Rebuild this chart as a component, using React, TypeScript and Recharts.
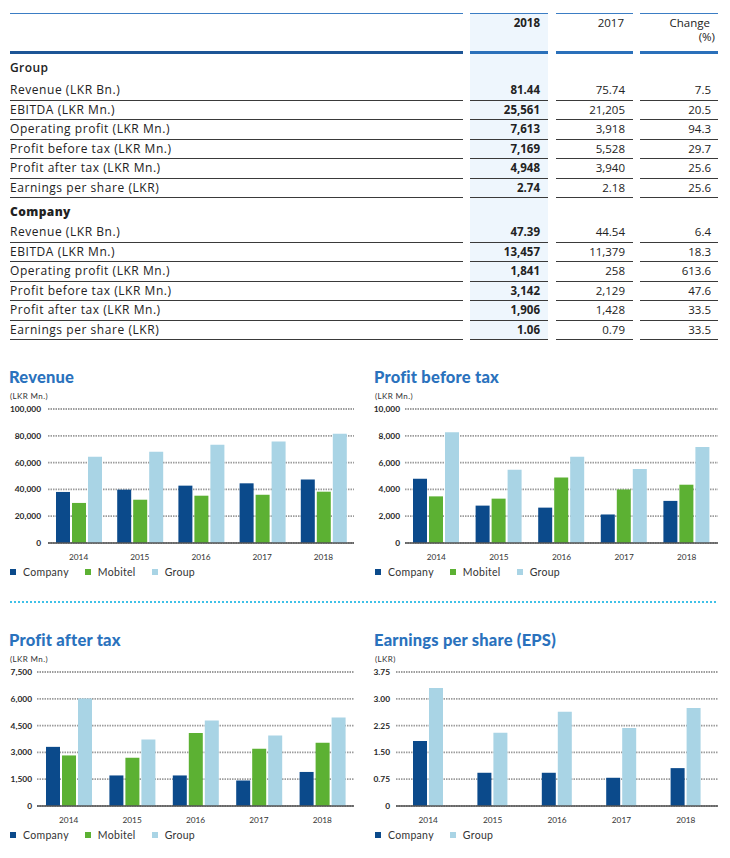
import React from 'react';
import { BarChart, Bar, XAxis, YAxis, CartesianGrid, Legend } from 'recharts';

// ---- table data ----
const rowLabels = [
  'Revenue (LKR Bn.)',
  'EBITDA (LKR Mn.)',
  'Operating profit (LKR Mn.)',
  'Profit before tax (LKR Mn.)',
  'Profit after tax (LKR Mn.)',
  'Earnings per share (LKR)',
];
const group2018 = ['81.44', '25,561', '7,613', '7,169', '4,948', '2.74'];
const group2017 = ['75.74', '21,205', '3,918', '5,528', '3,940', '2.18'];
const groupChange = ['7.5', '20.5', '94.3', '29.7', '25.6', '25.6'];
const company2018 = ['47.39', '13,457', '1,841', '3,142', '1,906', '1.06'];
const company2017 = ['44.54', '11,379', '258', '2,129', '1,428', '0.79'];
const companyChange = ['6.4', '18.3', '613.6', '47.6', '33.5', '33.5'];

// ---- chart data ----
const years = ['2014', '2015', '2016', '2017', '2018'];
const revenueCompany = [38100, 39800, 42800, 44540, 47390];
const revenueMobitel = [29900, 32300, 35300, 36000, 38300];
const revenueGroup = [64400, 68100, 73400, 75740, 81440];
const pbtCompany = [4800, 2790, 2640, 2129, 3142];
const pbtMobitel = [3480, 3310, 4880, 4000, 4350];
const pbtGroup = [8260, 5470, 6440, 5528, 7169];
const patCompany = [3310, 1710, 1710, 1428, 1906];
const patMobitel = [2830, 2700, 4090, 3200, 3540];
const patGroup = [6010, 3720, 4780, 3940, 4948];
const epsCompany = [1.82, 0.93, 0.93, 0.79, 1.06];
const epsGroup = [3.3, 2.05, 2.64, 2.18, 2.74];

const revenueTicks = [0, 20000, 40000, 60000, 80000, 100000];
const pbtTicks = [0, 2000, 4000, 6000, 8000, 10000];
const patTicks = [0, 1500, 3000, 4500, 6000, 7500];
const epsTicks = [0, 0.75, 1.5, 2.25, 3.0, 3.75];

const COMPANY = '#0b4a8b';
const MOBITEL = '#5cb133';
const GROUP = '#a9d4e5';
const TITLE = '#2a72bd';
const FONT = 'Lato, "Open Sans", sans-serif';

const fmtInt = (v: number) => v.toLocaleString('en-US');
const fmtEps = (v: number) => (v === 0 ? '0' : v.toFixed(2));

type Series = { key: string; name: string; color: string; values: number[] };

const LegendContent = ({ series }: { series: Series[] }) => (
  <div style={{ display: 'flex', alignItems: 'center', height: 14, paddingLeft: 10, fontFamily: FONT, fontSize: 10.5, color: '#333' }}>
    {series.map((s) => (
      <div key={s.key} style={{ display: 'flex', alignItems: 'center', marginRight: 16 }}>
        <span style={{ width: 6, height: 6, background: s.color, marginRight: 7, display: 'inline-block' }} />
        <span style={{ letterSpacing: 0.3 }}>{s.name}</span>
      </div>
    ))}
  </div>
);

interface MiniProps {
  title: string;
  unit: string;
  left: number;
  plotTop: number;
  yWidth: number;
  rightMargin: number;
  tickGap: number;
  ticks: number[];
  fmt: (v: number) => string;
  series: Series[];
}

const MiniChart = ({ title, unit, left, plotTop, yWidth, rightMargin, tickGap, ticks, fmt, series }: MiniProps) => {
  const data = years.map((y, i) => {
    const row: any = { year: y };
    series.forEach((s) => (row[s.key] = s.values[i]));
    return row;
  });
  return (
    <>
      <div style={{ position: 'absolute', left: left + 9, top: plotTop - 41, fontFamily: FONT, fontWeight: 900, fontSize: 16.5, lineHeight: '19px', color: TITLE, letterSpacing: 0.2 }}>
        {title}
      </div>
      <div style={{ position: 'absolute', left: left + 10, top: plotTop - 18.5, fontFamily: FONT, fontSize: 8, lineHeight: '10px', color: '#333', letterSpacing: 0.4 }}>
        {unit}
      </div>
      <div style={{ position: 'absolute', left, top: plotTop - 5 }}>
        <BarChart width={360} height={175} data={data} margin={{ top: 5, right: rightMargin, left: 0, bottom: 0 }} barSize={14} barGap={2}>
          <CartesianGrid vertical={false} stroke="#9c9c9c" strokeWidth={1.8} strokeDasharray="1.5 1" />
          <XAxis
            dataKey="year"
            height={22}
            tickLine={false}
            tickSize={0}
            tickMargin={11}
            axisLine={{ stroke: '#555', strokeWidth: 1.5 }}
            tick={{ fontSize: 8.3, fill: '#333', fontFamily: FONT }}
          />
          <YAxis
            width={yWidth}
            domain={[ticks[0], ticks[ticks.length - 1]]}
            ticks={ticks}
            interval={0}
            axisLine={false}
            tickLine={false}
            tickSize={0}
            tickMargin={tickGap}
            tickFormatter={fmt}
            tick={{ fontSize: 8.4, fill: '#2a2a2a', fontWeight: 700, fontFamily: FONT }}
          />
          <Legend verticalAlign="bottom" align="left" content={() => <LegendContent series={series} />} />
          {series.map((s) => (
            <Bar key={s.key} dataKey={s.key} name={s.name} fill={s.color} isAnimationActive={false} />
          ))}
        </BarChart>
      </div>
    </>
  );
};

const colSpans = [
  [10, 463],
  [470, 548],
  [556, 633],
  [640, 718],
];

const Cell = ({ text, right, left, y, bold, spacing, size }: { text: string; right?: number; left?: number; y: number; bold?: number; spacing?: number; size?: number }) => (
  <div
    style={{
      position: 'absolute',
      top: y - 7,
      lineHeight: '14px',
      fontSize: size || 11.5,
      fontWeight: bold || 400,
      color: '#222',
      whiteSpace: 'nowrap',
      letterSpacing: spacing || 0,
      ...(left !== undefined ? { left } : { right: 730 - (right as number), textAlign: 'right' as const }),
    }}
  >
    {text}
  </div>
);

const Section = ({ start, v18, v17, chg }: { start: number; v18: string[]; v17: string[]; chg: string[] }) => (
  <>
    {rowLabels.map((lab, i) => {
      const y = start + i * 19.5;
      return (
        <React.Fragment key={lab}>
          <Cell text={lab} left={10} y={y} spacing={0.55} size={12} />
          <Cell text={v18[i]} right={540} y={y} bold={700} />
          <Cell text={v17[i]} right={625} y={y} />
          <Cell text={chg[i]} right={711} y={y} bold={500} />
          {colSpans.map(([a, b]) => (
            <div key={a} style={{ position: 'absolute', left: a, top: y + 9.5, width: b - a, height: 1.3, background: '#3a3a3a' }} />
          ))}
        </React.Fragment>
      );
    })}
  </>
);

const SummaryTable = () => (
  <div style={{ fontFamily: '"Open Sans", sans-serif' }}>
    <div style={{ position: 'absolute', left: 470, top: 13, width: 78, height: 327, background: '#eef6fd' }} />
    {colSpans.map(([a, b], i) => (
      <React.Fragment key={a}>
        <div style={{ position: 'absolute', left: a, top: 13, width: b - a, height: 1, background: '#3b7dc4' }} />
        <div style={{ position: 'absolute', left: a, top: 51, width: b - a, height: 3, background: i === 0 ? '#1d5596' : '#2a70ba' }} />
      </React.Fragment>
    ))}
    <Cell text="2018" right={540} y={23} bold={700} />
    <Cell text="2017" right={624} y={23} />
    <Cell text="Change" right={710} y={23} />
    <Cell text="(%)" right={715} y={37} />
    <Cell text="Group" left={10} y={68} bold={600} spacing={0.4} size={12} />
    <Section start={90} v18={group2018} v17={group2017} chg={groupChange} />
    <Cell text="Company" left={10} y={212} bold={800} spacing={0.4} size={12} />
    <Section start={232} v18={company2018} v17={company2017} chg={companyChange} />
  </div>
);

export default function App() {
  return (
    <div style={{ position: 'absolute', left: 0, top: 0, width: 730, height: 858, background: '#fff', overflow: 'hidden' }}>
      <SummaryTable />
      <MiniChart
        title="Revenue"
        unit="(LKR Mn.)"
        left={0}
        plotTop={409}
        yWidth={48}
        rightMargin={6}
        tickGap={7}
        ticks={revenueTicks}
        fmt={fmtInt}
        series={[
          { key: 'company', name: 'Company', color: COMPANY, values: revenueCompany },
          { key: 'mobitel', name: 'Mobitel', color: MOBITEL, values: revenueMobitel },
          { key: 'group', name: 'Group', color: GROUP, values: revenueGroup },
        ]}
      />
      <MiniChart
        title="Profit before tax"
        unit="(LKR Mn.)"
        left={365}
        plotTop={409}
        yWidth={40}
        rightMargin={7}
        tickGap={5}
        ticks={pbtTicks}
        fmt={fmtInt}
        series={[
          { key: 'company', name: 'Company', color: COMPANY, values: pbtCompany },
          { key: 'mobitel', name: 'Mobitel', color: MOBITEL, values: pbtMobitel },
          { key: 'group', name: 'Group', color: GROUP, values: pbtGroup },
        ]}
      />
      <div
        style={{
          position: 'absolute',
          left: 10,
          top: 601,
          width: 708,
          height: 2,
          background: 'repeating-linear-gradient(to right, #3fc1e8 0 2px, transparent 2px 4px)',
        }}
      />
      <MiniChart
        title="Profit after tax"
        unit="(LKR Mn.)"
        left={0}
        plotTop={672}
        yWidth={37}
        rightMargin={6}
        tickGap={5}
        ticks={patTicks}
        fmt={fmtInt}
        series={[
          { key: 'company', name: 'Company', color: COMPANY, values: patCompany },
          { key: 'mobitel', name: 'Mobitel', color: MOBITEL, values: patMobitel },
          { key: 'group', name: 'Group', color: GROUP, values: patGroup },
        ]}
      />
      <MiniChart
        title="Earnings per share (EPS)"
        unit="(LKR)"
        left={365}
        plotTop={672}
        yWidth={31}
        rightMargin={7}
        tickGap={6}
        ticks={epsTicks}
        fmt={fmtEps}
        series={[
          { key: 'company', name: 'Company', color: COMPANY, values: epsCompany },
          { key: 'group', name: 'Group', color: GROUP, values: epsGroup },
        ]}
      />
    </div>
  );
}
